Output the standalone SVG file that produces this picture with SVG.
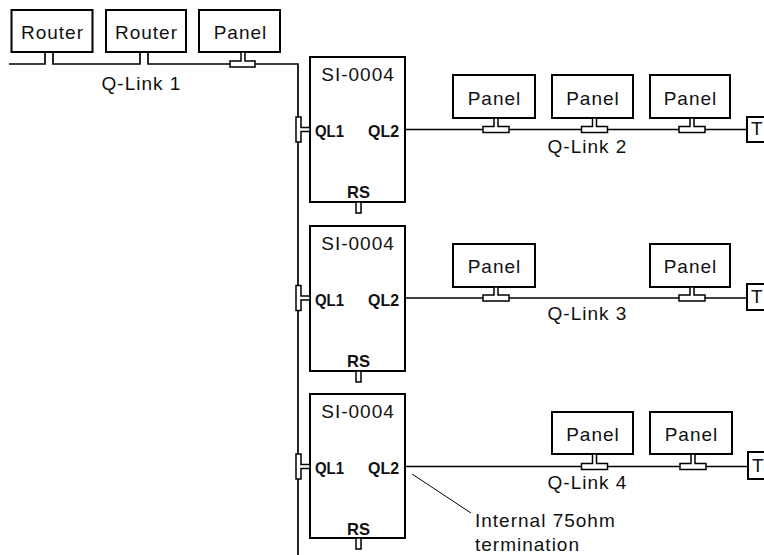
<svg xmlns="http://www.w3.org/2000/svg" width="764" height="555" viewBox="0 0 764 555">
<style>
.box{fill:#fff;stroke:#000;stroke-width:2}
.ln{fill:none;stroke:#000;stroke-width:1.7}
.tc{fill:#fff;stroke:#000;stroke-width:1.5}
.lbl{font-family:"Liberation Sans",Arial,sans-serif;font-size:19px;letter-spacing:1px;fill:#111}
.mid{text-anchor:middle}
.port{font-family:"Liberation Sans",Arial,sans-serif;font-size:17px;font-weight:bold;fill:#111}
.note{fill:none;stroke:#000;stroke-width:1}
</style>
<rect width="764" height="555" fill="#fff"/>
<g id="connectors">
<path class="ln" d="M9,64 H45 V52 M53,52 V64 H140 V52 M148,52 V64 H298 V555"/>
<path class="ln" d="M405,129.5 H747"/>
<path class="ln" d="M405,298 H747"/>
<path class="ln" d="M405,466.5 H748"/>
<path class="note" d="M412,474 L471,513"/>
</g>
<g id="router1"><rect class="box" x="11.5" y="10" width="81" height="42"/><text class="lbl mid" x="52.5" y="39">Router</text></g>
<g id="router2"><rect class="box" x="106" y="10" width="80" height="42"/><text class="lbl mid" x="146.5" y="39">Router</text></g>
<g id="panel-q1"><rect class="box" x="199" y="10" width="81" height="42"/><text class="lbl mid" x="240.5" y="39">Panel</text>
<path class="tc" d="M241,52 H245 V61 H255 V67 H230 V61 H241 Z"/></g>
<text class="lbl mid" x="141.5" y="90">Q-Link 1</text>

<g id="si1"><rect class="box" x="310" y="57" width="95" height="145"/>
<text class="lbl mid" x="358" y="81">SI-0004</text>
<text class="port" x="315" y="137" textLength="29" lengthAdjust="spacingAndGlyphs">QL1</text>
<text class="port" x="368" y="137" textLength="31" lengthAdjust="spacingAndGlyphs">QL2</text>
<text class="port" x="347" y="198" textLength="23" lengthAdjust="spacingAndGlyphs">RS</text>
<path class="tc" d="M310,127.5 H301 V117 H296 V142 H301 V131.5 H310 Z"/>
<rect class="tc" x="356" y="202" width="5" height="11"/></g>

<g id="si2"><rect class="box" x="310" y="226" width="95" height="145"/>
<text class="lbl mid" x="358" y="249.5">SI-0004</text>
<text class="port" x="315" y="305.5" textLength="29" lengthAdjust="spacingAndGlyphs">QL1</text>
<text class="port" x="368" y="305.5" textLength="31" lengthAdjust="spacingAndGlyphs">QL2</text>
<text class="port" x="347" y="367" textLength="23" lengthAdjust="spacingAndGlyphs">RS</text>
<path class="tc" d="M310,296 H301 V285.5 H296 V310.5 H301 V300 H310 Z"/>
<rect class="tc" x="356" y="371" width="5" height="11"/></g>

<g id="si3"><rect class="box" x="310" y="394" width="95" height="144"/>
<text class="lbl mid" x="358" y="418">SI-0004</text>
<text class="port" x="315" y="474" textLength="29" lengthAdjust="spacingAndGlyphs">QL1</text>
<text class="port" x="368" y="474" textLength="31" lengthAdjust="spacingAndGlyphs">QL2</text>
<text class="port" x="347" y="535" textLength="23" lengthAdjust="spacingAndGlyphs">RS</text>
<path class="tc" d="M310,464.5 H301 V454 H296 V479 H301 V468.5 H310 Z"/>
<rect class="tc" x="356" y="538" width="5" height="11"/></g>

<g id="panel-q2a"><rect class="box" x="453" y="75" width="82" height="43"/><text class="lbl mid" x="494.5" y="105">Panel</text>
<path class="tc" d="M494,118 H498 V126.5 H509 V132.5 H483 V126.5 H494 Z"/></g>
<g id="panel-q2b"><rect class="box" x="552" y="75" width="81" height="43"/><text class="lbl mid" x="593" y="105">Panel</text>
<path class="tc" d="M592.5,118 H596.5 V126.5 H607.5 V132.5 H581.5 V126.5 H592.5 Z"/></g>
<g id="panel-q2c"><rect class="box" x="650" y="75" width="80" height="43"/><text class="lbl mid" x="690.5" y="105">Panel</text>
<path class="tc" d="M690,118 H694 V126.5 H705 V132.5 H679 V126.5 H690 Z"/></g>
<g id="term-q2"><rect class="box" x="747" y="117" width="30" height="25"/><text class="lbl" x="751" y="135">T</text></g>
<text class="lbl mid" x="587.5" y="153">Q-Link 2</text>

<g id="panel-q3a"><rect class="box" x="453" y="244" width="82" height="43"/><text class="lbl mid" x="494.5" y="273">Panel</text>
<path class="tc" d="M494,287 H498 V295 H509 V301 H483 V295 H494 Z"/></g>
<g id="panel-q3b"><rect class="box" x="650" y="244" width="80" height="43"/><text class="lbl mid" x="690.5" y="273">Panel</text>
<path class="tc" d="M690,287 H694 V295 H705 V301 H679 V295 H690 Z"/></g>
<g id="term-q3"><rect class="box" x="747" y="284" width="30" height="26"/><text class="lbl" x="751" y="303">T</text></g>
<text class="lbl mid" x="587.5" y="320">Q-Link 3</text>

<g id="panel-q4a"><rect class="box" x="552" y="412" width="81" height="42"/><text class="lbl mid" x="593" y="441">Panel</text>
<path class="tc" d="M592.5,454 H596.5 V463.5 H607.5 V469.5 H581.5 V463.5 H592.5 Z"/></g>
<g id="panel-q4b"><rect class="box" x="650" y="412" width="82" height="42"/><text class="lbl mid" x="691.5" y="441">Panel</text>
<path class="tc" d="M691,454 H695 V463.5 H706 V469.5 H680 V463.5 H691 Z"/></g>
<g id="term-q4"><rect class="box" x="748" y="452" width="30" height="27"/><text class="lbl" x="752" y="472">T</text></g>
<text class="lbl mid" x="587.5" y="489">Q-Link 4</text>

<g id="note"><text class="lbl" x="475" y="527">Internal 75ohm</text><text class="lbl" x="475" y="551">termination</text></g>
</svg>
